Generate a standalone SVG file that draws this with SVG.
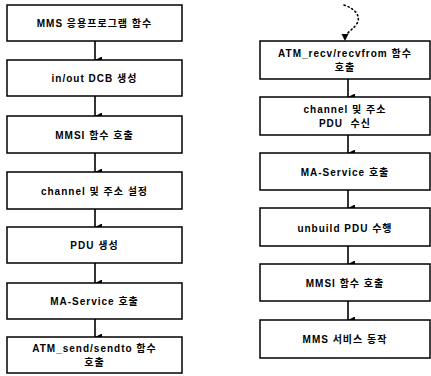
<svg xmlns="http://www.w3.org/2000/svg" width="431" height="376" viewBox="0 0 431 376">
<defs>
<style>
.box{fill:#fff;stroke:#000;stroke-width:1.5}
.t{font-family:"Liberation Sans","Noto Sans CJK KR",sans-serif;font-size:10px;font-weight:bold;letter-spacing:1px;text-anchor:middle;fill:#000}
.c{stroke:#000;stroke-width:1.6;fill:none}
.d{stroke:#000;stroke-width:1.6;fill:none;stroke-dasharray:1.2 3;stroke-linecap:round}
</style>
<marker id="ah" viewBox="0 0 8 8" refX="4" refY="8" markerWidth="7" markerHeight="7" markerUnits="userSpaceOnUse" orient="auto-start-reverse">
<path d="M0,0 L8,0 L4,8 Z" fill="#000"/>
</marker>
</defs>
<g id="connectors">
<line class="c" x1="95" y1="41" x2="95" y2="60" marker-end="url(#ah)"/>
<line class="c" x1="95" y1="96" x2="95" y2="116" marker-end="url(#ah)"/>
<line class="c" x1="95" y1="153" x2="95" y2="172" marker-end="url(#ah)"/>
<line class="c" x1="95" y1="209" x2="95" y2="227" marker-end="url(#ah)"/>
<line class="c" x1="95" y1="263" x2="95" y2="283" marker-end="url(#ah)"/>
<line class="c" x1="95" y1="319" x2="95" y2="337" marker-end="url(#ah)"/>
<path class="d" d="M344,5 C356,9 362,17 356,25 C351,31 346,33 345,38"/>
<path d="M341.5,34 L348.5,34 L345,41 Z" fill="#000"/>
<line class="c" x1="348" y1="79" x2="348" y2="97" marker-end="url(#ah)"/>
<line class="c" x1="348" y1="135" x2="348" y2="153" marker-end="url(#ah)"/>
<line class="c" x1="348" y1="190" x2="348" y2="208" marker-end="url(#ah)"/>
<line class="c" x1="348" y1="246" x2="348" y2="264" marker-end="url(#ah)"/>
<line class="c" x1="348" y1="301" x2="348" y2="320" marker-end="url(#ah)"/>
</g>
<g id="n1"><rect class="box" x="7" y="5" width="175" height="36"/><text class="t" x="94.5" y="27">MMS 응용프로그램 함수</text></g>
<g id="n2"><rect class="box" x="7" y="60" width="175" height="36"/><text class="t" x="94.5" y="82">in/out DCB 생성</text></g>
<g id="n3"><rect class="box" x="7" y="116" width="175" height="37"/><text class="t" x="94.5" y="138.5">MMSI 함수 호출</text></g>
<g id="n4"><rect class="box" x="7" y="172" width="175" height="37"/><text class="t" x="94.5" y="194.5">channel 및 주소 설정</text></g>
<g id="n5"><rect class="box" x="7" y="227" width="175" height="36"/><text class="t" x="94.5" y="249">PDU 생성</text></g>
<g id="n6"><rect class="box" x="7" y="283" width="175" height="36"/><text class="t" x="94.5" y="305">MA-Service 호출</text></g>
<g id="n7"><rect class="box" x="7" y="337" width="175" height="36"/><text class="t" x="94.5" y="352">ATM_send/sendto 함수</text><text class="t" x="94.5" y="366">호출</text></g>
<g id="r1"><rect class="box" x="260" y="41" width="170" height="38"/><text class="t" x="345" y="57">ATM_recv/recvfrom 함수</text><text class="t" x="345" y="71">호출</text></g>
<g id="r2"><rect class="box" x="260" y="97" width="170" height="38"/><text class="t" x="345" y="113">channel 및 주소</text><text class="t" x="345" y="126.5">PDU&#160; 수신</text></g>
<g id="r3"><rect class="box" x="260" y="153" width="170" height="37"/><text class="t" x="345" y="176">MA-Service 호출</text></g>
<g id="r4"><rect class="box" x="260" y="208" width="170" height="38"/><text class="t" x="345" y="231.5">unbuild PDU 수행</text></g>
<g id="r5"><rect class="box" x="260" y="264" width="170" height="37"/><text class="t" x="345" y="287">MMSI 함수 호출</text></g>
<g id="r6"><rect class="box" x="260" y="320" width="170" height="38"/><text class="t" x="345" y="343">MMS 서비스 동작</text></g>
</svg>
